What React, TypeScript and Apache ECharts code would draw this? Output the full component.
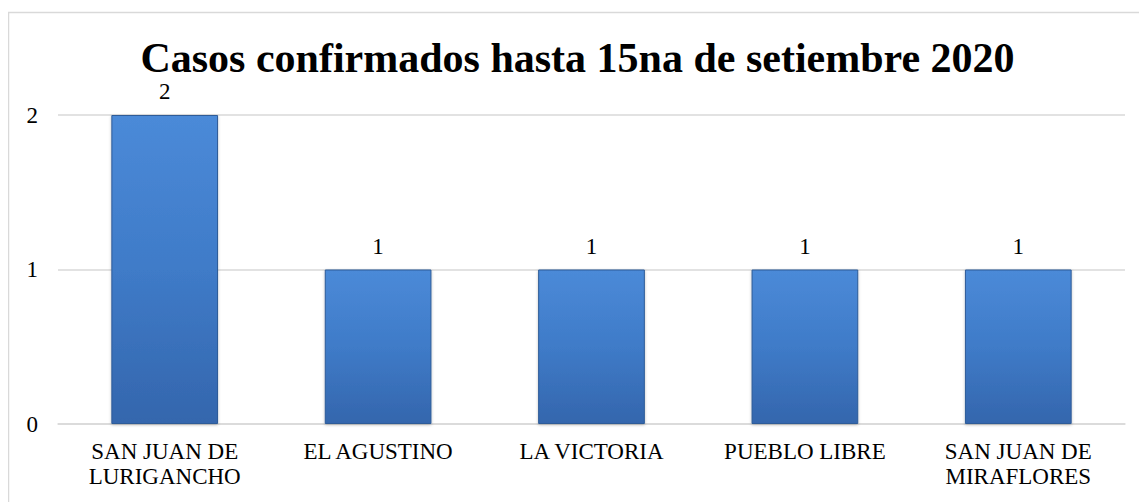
import React, { useEffect, useRef } from "react";
import * as echarts from "echarts";

const categories = [
  "SAN JUAN DE\nLURIGANCHO",
  "EL AGUSTINO",
  "LA VICTORIA",
  "PUEBLO LIBRE",
  "SAN JUAN DE\nMIRAFLORES",
];
const values = [2, 1, 1, 1, 1];
const titleText = "Casos confirmados hasta 15na de setiembre 2020";

const FONT = "Liberation Serif";

export default function App() {
  const ref = useRef<HTMLDivElement>(null);
  useEffect(() => {
    if (!ref.current) return;
    const chart = echarts.init(ref.current, undefined, { renderer: "svg" });
    chart.setOption({
      animation: false,
      backgroundColor: "#ffffff",
      title: {
        text: titleText,
        left: "center",
        top: 28,
        padding: 0,
        textStyle: { fontFamily: FONT, fontSize: 42, lineHeight: 44, fontWeight: "bold", color: "#000" },
      },
      graphic: [
        {
          type: "rect",
          shape: { x: 0.5, y: 4.5, width: 1300, height: 1000 },
          style: { fill: "none", stroke: "#d9d9d9", lineWidth: 1.5 },
          silent: true,
        },
      ],
      grid: { left: 50, right: 22, top: 107, bottom: 78 },
      xAxis: {
        type: "category",
        data: categories,
        axisLine: { show: true, lineStyle: { color: "#d9d9d9", width: 1.5 } },
        axisTick: { show: false },
        axisLabel: {
          fontFamily: FONT,
          fontSize: 23,
          color: "#000",
          margin: 15,
          lineHeight: 25,
          interval: 0,
        },
      },
      yAxis: {
        type: "value",
        min: 0,
        max: 2,
        interval: 1,
        axisLine: { show: false },
        axisTick: { show: false },
        splitLine: { lineStyle: { color: "#d9d9d9", width: 1.5 } },
        axisLabel: { fontFamily: FONT, fontSize: 23, color: "#000", margin: 20 },
      },
      series: [
        {
          type: "bar",
          data: values,
          barWidth: "50%",
          itemStyle: {
            color: new echarts.graphic.LinearGradient(0, 0, 0, 1, [
              { offset: 0, color: "#4b8ad8" },
              { offset: 0.5, color: "#3f7bc8" },
              { offset: 1, color: "#3466ad" },
            ]),
            borderColor: "#2d5b98",
            borderWidth: 1,
            shadowColor: "rgba(0,0,0,0.25)",
            shadowBlur: 3,
            shadowOffsetY: 1,
          },
          label: {
            show: true,
            position: "top",
            distance: 12,
            fontFamily: FONT,
            fontSize: 23,
            color: "#000",
          },
        },
      ],
    });
    return () => chart.dispose();
  }, []);
  return <div ref={ref} style={{ width: 1139, height: 494 }} />;
}
